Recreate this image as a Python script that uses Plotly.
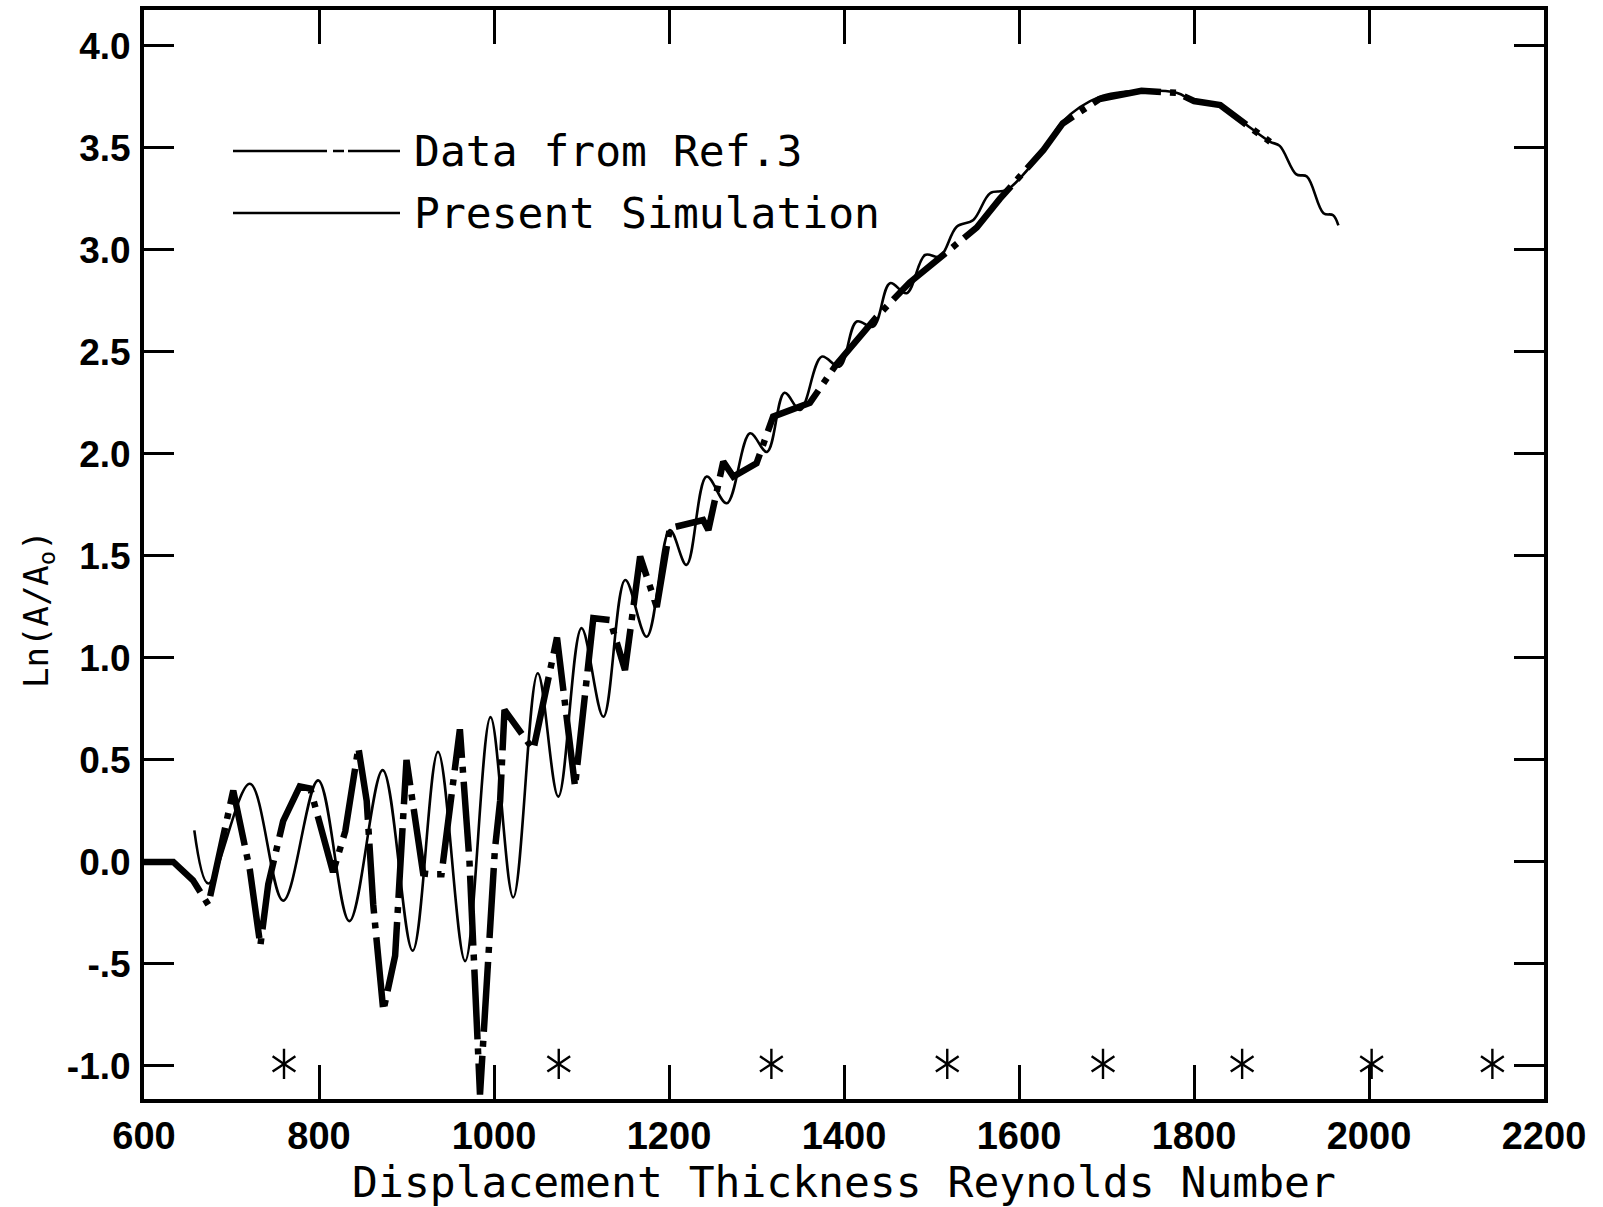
import plotly.graph_objects as go

# ---- data ----
# Present Simulation (thin solid line)
sim_re = [657.5, 673.5, 721, 759, 799, 834.7, 872.8, 907, 936, 967, 996, 1022, 1050,
          1073.5, 1100, 1125, 1150, 1174.5, 1201, 1220, 1243, 1266, 1292.6, 1312, 1332,
          1350, 1374.5, 1395, 1414.5, 1433.5, 1452.6, 1471.6, 1492.6, 1509.7, 1528.8,
          1547.8, 1567, 1586, 1628, 1650, 1692, 1738, 1780, 1800, 1830, 1864, 1887,
          1898, 1917, 1929, 1948, 1959, 1965]
sim_ln = [0.155, -0.106, 0.383, -0.19, 0.40, -0.29, 0.45, -0.435, 0.54, -0.486, 0.71,
          -0.174, 0.925, 0.32, 1.146, 0.712, 1.382, 1.104, 1.627, 1.456, 1.889, 1.758,
          2.101, 2.01, 2.30, 2.216, 2.477, 2.428, 2.649, 2.624, 2.837, 2.788, 2.975,
          2.967, 3.114, 3.147, 3.278, 3.294, 3.49, 3.63, 3.75, 3.78, 3.77, 3.73, 3.71,
          3.60, 3.53, 3.51, 3.37, 3.36, 3.18, 3.17, 3.12]

# Data from Ref.3 (thick dash-dot line)
ref_re = [600, 633.5, 656, 673.5, 702, 715, 721, 733, 742, 759, 778, 790, 816, 830,
          845, 854.5, 862, 873.5, 887, 900, 919, 927, 940, 961, 972, 984, 993.5, 1001,
          1007, 1012, 1045, 1072, 1092.6, 1113.5, 1132.6, 1149.7, 1167, 1186, 1201,
          1239, 1245, 1262, 1273.5, 1300, 1319, 1350, 1361, 1391.5, 1437, 1475, 1513.5,
          1551.7, 1578, 1628, 1650, 1692, 1740, 1780, 1800, 1830, 1864, 1887]
ref_ln = [0.0, 0.0, -0.09, -0.21, 0.35, 0.06, -0.04, -0.41, -0.11, 0.20, 0.37, 0.36,
          -0.05, 0.15, 0.56, 0.30, -0.21, -0.73, -0.46, 0.50, -0.056, -0.06, -0.06, 0.65,
          0.0, -1.14, -0.53, 0.06, 0.30, 0.745, 0.55, 1.10, 0.37, 1.195, 1.186, 0.941,
          1.497, 1.25, 1.636, 1.676, 1.627, 1.962, 1.889, 1.954, 2.183, 2.232, 2.25,
          2.44, 2.67, 2.84, 2.98, 3.11, 3.25, 3.49, 3.62, 3.74, 3.78, 3.77, 3.73, 3.71,
          3.60, 3.53]

# asterisk markers along the bottom
star_re = [760, 1074, 1317, 1518, 1696, 1855, 2003, 2141]
star_ln = [-0.99, -0.99, -0.99, -0.99, -0.99, -0.99, -0.99, -0.99]

x_ticks = [600, 800, 1000, 1200, 1400, 1600, 1800, 2000, 2200]
x_tick_text = ["600", "800", "1000", "1200", "1400", "1600", "1800", "2000", "2200"]
y_ticks = [-1.0, -0.5, 0.0, 0.5, 1.0, 1.5, 2.0, 2.5, 3.0, 3.5, 4.0]
y_tick_text = ["-1.0", "-.5", "0.0", "0.5", "1.0", "1.5", "2.0", "2.5", "3.0", "3.5", "4.0"]

legend_labels = ["Data from Ref.3", "Present Simulation"]

# ---- figure ----
W, H = 1603, 1207
ML, MR, MT, MB = 144, 59, 10, 108
PW, PH = W - ML - MR, H - MT - MB

mono = "DejaVu Sans Mono, Liberation Mono, monospace"
tickfam = "Liberation Sans, Arial, DejaVu Sans"

fig = go.Figure()

fig.add_trace(go.Scatter(
    x=ref_re, y=ref_ln, mode="lines", name=legend_labels[0],
    line=dict(color="black", width=6.5, dash="70px,9px,6px,9px"),
    showlegend=False))

fig.add_trace(go.Scatter(
    x=sim_re, y=sim_ln, mode="lines", name=legend_labels[1],
    line=dict(color="black", width=2.6, shape="spline", smoothing=1.0),
    showlegend=False))

for sym in ["y-up-open", "y-down-open"]:
    fig.add_trace(go.Scatter(
        x=star_re, y=star_ln, mode="markers", showlegend=False, hoverinfo="skip",
        marker=dict(symbol=sym, size=19, color="black",
                    line=dict(color="black", width=2.4))))

def px_x(X):
    return (X - ML) / PW

def px_y(Y):
    return (H - MB - Y) / PH

# hand-drawn legend (long sample lines)
legend_rows = [151, 213]
legend_dash = ["94px,6px,11px,4px,80px", "solid"]
for row, dash, label in zip(legend_rows, legend_dash, legend_labels):
    fig.add_shape(type="line", xref="paper", yref="paper",
                  x0=px_x(233), x1=px_x(400), y0=px_y(row), y1=px_y(row),
                  line=dict(color="black", width=2.6, dash=dash))
    fig.add_annotation(xref="paper", yref="paper", x=px_x(412), y=px_y(row),
                       xanchor="left", yanchor="middle", showarrow=False,
                       text=label, font=dict(family=mono, size=43, color="black"))

# y-axis title (sits below the plot centre in the reference)
fig.add_annotation(xref="paper", yref="paper", x=px_x(38), y=px_y(609),
                   xanchor="center", yanchor="middle", showarrow=False,
                   textangle=-90, text="Ln(A/A<sub>o</sub>)",
                   font=dict(family=mono, size=34, color="black"))

axis_common = dict(showline=True, linecolor="black", linewidth=4, mirror="allticks",
                   ticks="inside", tickcolor="black", tickwidth=3,
                   showgrid=False, zeroline=False, automargin=False)

fig.update_xaxes(range=[600, 2200], tickmode="array", tickvals=x_ticks,
                 ticktext=x_tick_text, ticklen=34, ticklabelstandoff=0,
                 tickfont=dict(family=tickfam, size=38, color="black", weight="bold"),
                 title=dict(text="Displacement Thickness Reynolds Number",
                            font=dict(family=mono, size=43, color="black"), standoff=12),
                 **axis_common)
fig.update_yaxes(range=[-1.162, 4.176], tickmode="array", tickvals=y_ticks,
                 ticktext=y_tick_text, ticklen=30, ticklabelstandoff=2,
                 tickfont=dict(family=tickfam, size=37, color="black", weight="bold"),
                 **axis_common)

fig.update_layout(width=W, height=H, margin=dict(l=ML, r=MR, t=MT, b=MB),
                  paper_bgcolor="white", plot_bgcolor="white", showlegend=False)

fig.write_html("out.html")
